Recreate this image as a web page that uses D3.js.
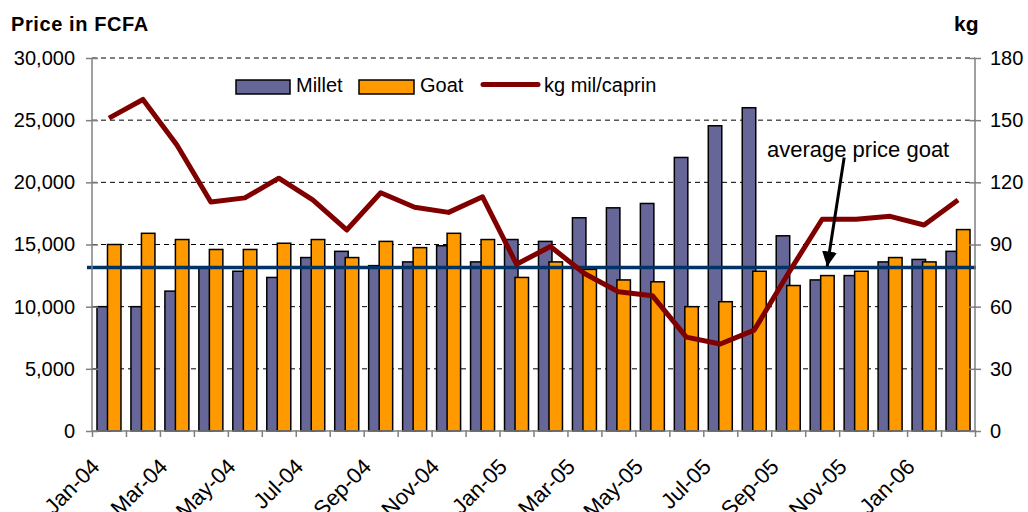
<!DOCTYPE html>
<html>
<head>
<meta charset="utf-8">
<script src="https://cdn.jsdelivr.net/npm/d3@7"></script>
<style>
  body { margin: 0; background: #fff; }
  text { font-family: "Liberation Sans", Arial, sans-serif; fill: #000; }
</style>
</head>
<body>
<script>
// monthly prices, Jan-04 .. Feb-06
var months = ["Jan-04","Feb-04","Mar-04","Apr-04","May-04","Jun-04","Jul-04","Aug-04","Sep-04","Oct-04","Nov-04","Dec-04",
              "Jan-05","Feb-05","Mar-05","Apr-05","May-05","Jun-05","Jul-05","Aug-05","Sep-05","Oct-05","Nov-05","Dec-05",
              "Jan-06","Feb-06"];
var millet = [10000,10000,11250,13200,12850,12350,13950,14450,13300,13600,14900,13600,
              15400,15250,17150,17950,18300,22000,24550,26000,15700,12150,12500,13600,
              13800,14450];
var goat = [15000,15900,15400,14600,14600,15100,15400,13950,15250,14750,15900,15400,
            12350,13600,13000,12150,12000,10000,10400,12850,11700,12500,12850,13950,
            13600,16200];
// kg of millet for one goat (right axis)
var kgRatio = [151,160,138,110.5,112.5,122,111.5,97,115,108,105.5,113,
               80.5,89,76,67.2,65.3,45.3,42,48.7,76,102.2,102.2,103.6,
               99.4,111.5];
var avgGoat = 13150;
var leftTicks = [0,5000,10000,15000,20000,25000,30000];
var rightTicks = [0,30,60,90,120,150,180];

var W = 1028, H = 512;
var plotL = 92, plotR = 975, plotT = 58, plotB = 431;

var svg = d3.select("body").append("svg")
    .attr("width", W)
    .attr("height", H);

var x = d3.scaleBand().domain(months).range([plotL, plotR]).padding(0);
var xEdge = d3.scaleLinear().domain([0, months.length]).range([plotL, plotR]);
var yL = d3.scaleLinear().domain([0, 30000]).range([plotB, plotT]);
var yR = d3.scaleLinear().domain([0, 180]).range([plotB, plotT]);

// dashed gridlines
svg.append("g")
  .selectAll("line")
  .data(leftTicks.slice(1))
  .join("line")
    .attr("x1", plotL).attr("x2", plotR)
    .attr("y1", d => yL(d)).attr("y2", d => yL(d))
    .attr("stroke", "#000")
    .attr("stroke-width", 1)
    .attr("stroke-dasharray", "5,4");

// bars (goat drawn over millet, small overlap)
var bw = 13.5, overlap = 3;
var groupW = 2 * bw - overlap;
var bars = svg.append("g");
bars.selectAll("rect.millet")
  .data(millet)
  .join("rect")
    .attr("class", "millet")
    .attr("x", (d, i) => x(months[i]) + x.bandwidth() / 2 - groupW / 2)
    .attr("y", d => yL(d))
    .attr("width", bw)
    .attr("height", d => yL(0) - yL(d))
    .attr("fill", "#666699")
    .attr("stroke", "#000")
    .attr("stroke-width", 1.5);
bars.selectAll("rect.goat")
  .data(goat)
  .join("rect")
    .attr("class", "goat")
    .attr("x", (d, i) => x(months[i]) + x.bandwidth() / 2 - groupW / 2 + bw - overlap)
    .attr("y", d => yL(d))
    .attr("width", bw)
    .attr("height", d => yL(0) - yL(d))
    .attr("fill", "#FF9900")
    .attr("stroke", "#000")
    .attr("stroke-width", 1.5);

// average goat price
svg.append("line")
    .attr("x1", xEdge(0) - 5).attr("x2", xEdge(months.length) + 1)
    .attr("y1", yL(avgGoat)).attr("y2", yL(avgGoat))
    .attr("stroke", "#003366")
    .attr("stroke-width", 3.5);

// kg line
var line = d3.line()
    .x((d, i) => x(months[i]) + x.bandwidth() / 2)
    .y(d => yR(d));
svg.append("path")
    .datum(kgRatio)
    .attr("d", line)
    .attr("fill", "none")
    .attr("stroke", "#800000")
    .attr("stroke-width", 5)
    .attr("stroke-linejoin", "round");

// axes
var axL = svg.append("g")
    .attr("transform", "translate(" + plotL + ",0)")
    .call(d3.axisLeft(yL).tickValues(leftTicks).tickFormat(d3.format(",")).tickSize(6).tickPadding(11));
axL.selectAll(".tick line").attr("x2", -6).attr("x1", 6);
var axR = svg.append("g")
    .attr("transform", "translate(" + plotR + ",0)")
    .call(d3.axisRight(yR).tickValues(rightTicks).tickSize(6).tickPadding(9));
axR.selectAll(".tick line").attr("x1", -6).attr("x2", 6);
var axB = svg.append("g")
    .attr("transform", "translate(0," + plotB + ")")
    .call(d3.axisBottom(xEdge).tickValues(d3.range(months.length + 1)).tickFormat("").tickSize(6));
axB.selectAll(".tick line").attr("y1", -1);

[axL, axR, axB].forEach(function(a) {
  a.select(".domain").attr("stroke", "#808080").attr("stroke-width", 1.5);
  a.selectAll(".tick line").attr("stroke", "#808080").attr("stroke-width", 1.5);
  a.selectAll(".tick text")
    .style("font-family", "Liberation Sans, Arial, sans-serif")
    .style("font-size", "20px")
    .attr("fill", "#000");
});
axL.select(".domain").attr("d", "M0," + plotT + "V" + plotB);
axR.select(".domain").attr("d", "M0," + plotT + "V" + plotB);
axB.select(".domain").attr("d", "M" + plotL + ",0H" + plotR);

// month labels, every other one, rotated
svg.append("g")
  .selectAll("text")
  .data(months.filter((m, i) => i % 2 === 0))
  .join("text")
    .attr("transform", d => "translate(" + (x(d) + x.bandwidth() / 2 - 8) + "," + (plotB + 37) + ") rotate(-45)")
    .attr("text-anchor", "end")
    .style("font-size", "22px")
    .text(d => d);

// axis titles
svg.append("text")
    .attr("x", 11).attr("y", 31)
    .style("font-size", "20px").style("font-weight", "bold").style("letter-spacing", "0.6px")
    .text("Price in FCFA");
svg.append("text")
    .attr("x", 954).attr("y", 31)
    .style("font-size", "21px").style("font-weight", "bold")
    .text("kg");

// legend
var legend = svg.append("g").attr("transform", "translate(236,80)");
legend.append("rect").attr("x", 0).attr("y", 0).attr("width", 54).attr("height", 14)
    .attr("fill", "#666699").attr("stroke", "#000").attr("stroke-width", 1.5);
legend.append("text").attr("x", 60).attr("y", 12).style("font-size", "20px").text("Millet");
legend.append("rect").attr("x", 123).attr("y", 0).attr("width", 55).attr("height", 14)
    .attr("fill", "#FF9900").attr("stroke", "#000").attr("stroke-width", 1.5);
legend.append("text").attr("x", 184).attr("y", 12).style("font-size", "20px").text("Goat");
legend.append("line").attr("x1", 247).attr("x2", 302).attr("y1", 4.5).attr("y2", 4.5)
    .attr("stroke", "#800000").attr("stroke-width", 5).attr("stroke-linecap", "round");
legend.append("text").attr("x", 308).attr("y", 12).style("font-size", "20px").text("kg mil/caprin");

// annotation
svg.append("defs").append("marker")
    .attr("id", "arrow")
    .attr("viewBox", "0 0 10 10")
    .attr("refX", 10).attr("refY", 5)
    .attr("markerWidth", 5).attr("markerHeight", 5)
    .attr("markerUnits", "strokeWidth")
    .attr("orient", "auto")
  .append("path")
    .attr("d", "M0,0L10,5L0,10Z")
    .attr("fill", "#000");

var tipX = x("Oct-05") + x.bandwidth() / 2 + 5;
svg.append("line")
    .attr("x1", tipX + 17).attr("y1", yL(22000))
    .attr("x2", tipX).attr("y2", yL(avgGoat) - 1)
    .attr("stroke", "#000")
    .attr("stroke-width", 3)
    .attr("marker-end", "url(#arrow)");
svg.append("text")
    .attr("x", 767).attr("y", 157)
    .style("font-size", "22px")
    .text("average price goat");
</script>
</body>
</html>
